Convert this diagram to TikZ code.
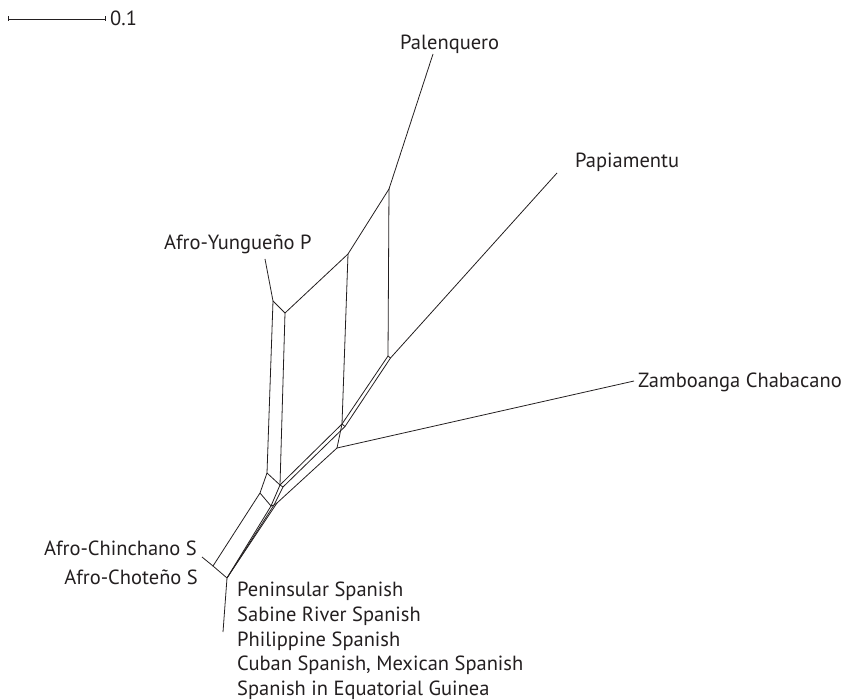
\documentclass[tikz,border=0pt]{standalone}
\usepackage{fontspec}
\setmainfont{PT Sans}
\usetikzlibrary{calc}
\definecolor{ink}{HTML}{231F20}
\begin{document}
\begin{tikzpicture}[x=1pt,y=-1pt,
  edge/.style={draw=ink,line width=0.8pt,line join=round},
  lab/.style={text=ink,font=\fontsize{20.5}{24.6}\selectfont,inner sep=0pt}]
\useasboundingbox (0,0) rectangle (856,700);
% scale bar
\coordinate (sb1) at (8,19);
\coordinate (sb2) at (105,19);
\draw[edge] (sb1) -- (sb2);
\draw[edge] ($(sb1)+(0,-2.5)$) -- ($(sb1)+(0,2.5)$);
\draw[edge] ($(sb2)+(0,-2.5)$) -- ($(sb2)+(0,2.5)$);
\node[lab,anchor=base west] (sbl) at (110,26) {0.1};
% internal nodes
\coordinate (A1) at (273,301);
\coordinate (A2) at (285,313);
\coordinate (B1) at (348,254);
\coordinate (C1) at (389,189);
\coordinate (A3) at (267,473);
\coordinate (A4) at (280,485);
\coordinate (B2) at (342,424);
\coordinate (C2) at (388,356);
\coordinate (C2b) at (390.5,358);
\coordinate (B2b) at (345,426.5);
\coordinate (A4b) at (283,487);
\coordinate (D1) at (260,493);
\coordinate (D2) at (271,506);
\coordinate (D2b) at (274,505);
\coordinate (D2c) at (277,503);
\coordinate (E1) at (213,566);
\coordinate (E2) at (227,578);
\coordinate (Z1) at (337,448);
% leaf ends
\coordinate (lY) at (265,259);
\coordinate (lP) at (433,54);
\coordinate (lPa) at (557,173);
\coordinate (lZ) at (634,381);
\coordinate (lC) at (202,557);
\coordinate (lS) at (223,632);
% leaf edges
\draw[edge] (A1) -- (lY);
\draw[edge] (C1) -- (lP);
\draw[edge] (C2b) -- (lPa);
\draw[edge] (Z1) -- (lZ);
\draw[edge] (E1) -- (lC);
\draw[edge] (E2) -- (lS);
% top strip
\draw[edge] (A1) -- (A2) -- (B1) -- (C1);
\draw[edge] (A1) -- (A3);
\draw[edge] (A2) -- (A4);
\draw[edge] (B1) -- (B2);
\draw[edge] (C1) -- (C2);
% lower strip
\draw[edge] (A3) -- (A4) -- (B2) -- (C2) -- (C2b);
\draw[edge] (C2b) -- (B2b) -- (A4b) -- (D2b);
\draw[edge] (B2) -- (B2b);
\draw[edge] (A4) -- (A4b);
\draw[edge] (B2) -- (Z1);
\draw[edge] (Z1) -- (D2c);
\draw[edge] (A3) -- (D1) -- (D2);
\draw[edge] (A4) -- (D2);
\draw[edge] (D2) -- (D2b) -- (D2c);
\draw[edge] (D1) -- (E1) -- (E2);
\draw[edge] (D2) -- (E2);
\draw[edge] (D2b) -- (E2);
\draw[edge] (D2c) -- (E2);
% labels
\node[lab,anchor=base west] (tP) at (400,50) {Palenquero};
\node[lab,anchor=base west] (tPa) at (575,168) {Papiamentu};
\node[lab,anchor=base west] (tY) at (164,250) {Afro-Yungueño P};
\node[lab,anchor=base west] (tZ) at (638,387) {Zamboanga Chabacano};
\node[lab,anchor=base east] (tC1) at (197,555) {Afro-Chinchano S};
\node[lab,anchor=base east] (tC2) at (198,584) {Afro-Choteño S};
\node[lab,anchor=north west,align=left] (tS) at (237,582) {Peninsular Spanish\\Sabine River Spanish\\Philippine Spanish\\Cuban Spanish, Mexican Spanish\\Spanish in Equatorial Guinea};
\end{tikzpicture}
\end{document}
